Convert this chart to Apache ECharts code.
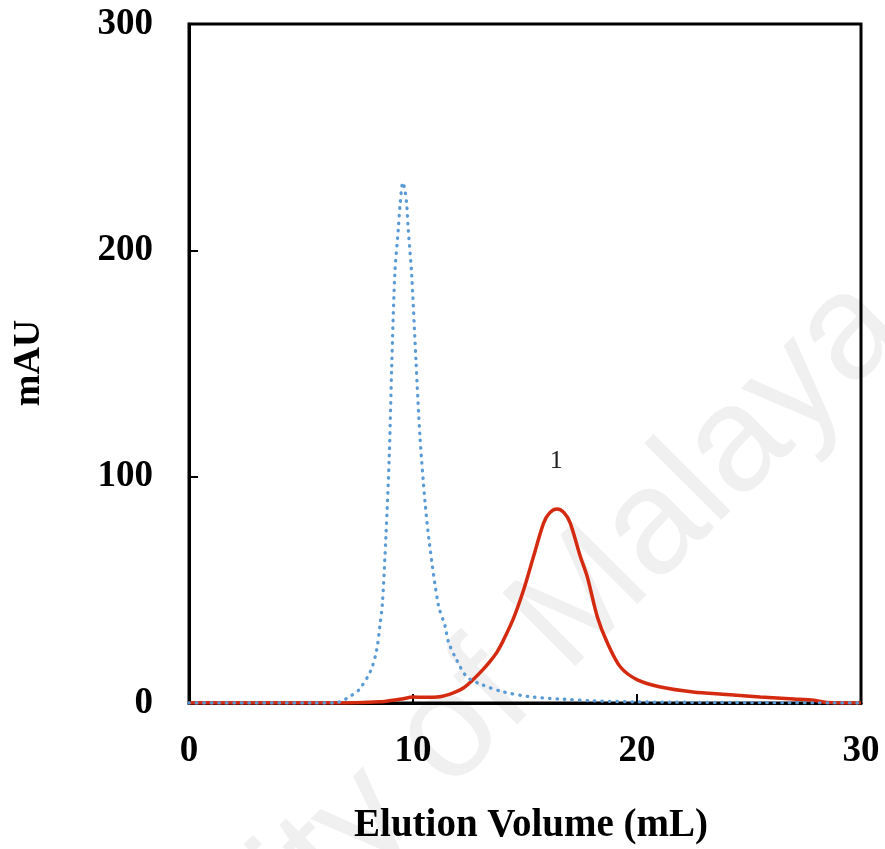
<!DOCTYPE html>
<html>
<head>
<meta charset="utf-8">
<script src="https://cdn.jsdelivr.net/npm/echarts@6/dist/echarts.min.js"></script>
<style>
html,body{margin:0;padding:0;background:#fff;}
#chart{width:885px;height:849px;}
</style>
</head>
<body>
<div id="chart"></div>
<script>
// Elution volume (mL) vs absorbance (mAU)
var redSeries = [
  [0,0],[7,0],[8.5,0.5],[9.5,1.8],[10,2.6],[10.5,2.5],[11.2,2.8],[11.8,4.5],[12.25,6.6],
  [12.7,10.5],[13.1,14.5],[13.45,18.5],[13.75,22.5],[14.0,27],[14.49,37.5],[14.94,50],
  [15.38,64.7],[15.83,79.5],[16.1,84],[16.43,85.7],[16.75,84],[17.02,79.5],[17.47,64.7],
  [17.78,55.8],[18.23,38],[18.68,26.5],[19.26,15.9],[20.02,10.2],[21.05,7.1],[22.5,4.9],
  [24,3.8],[25.5,2.7],[27,1.8],[27.9,1.2],[28.5,0.2],[29,0],[30,0]
];
var blueSeries = [
  [0,0],[6.5,0],[6.8,0.8],[7.2,3],[7.6,6],[8.1,14],[8.37,23],[8.52,34],[8.63,43.4],
  [8.79,73.6],[8.94,109],[9.05,148.8],[9.19,190],[9.34,209],[9.42,220],[9.55,230],
  [9.65,226],[9.72,220],[9.79,209],[9.94,189.5],[10.13,151.8],[10.31,117.8],[10.54,88.5],
  [10.73,70.8],[11.13,43.4],[11.43,34],[11.58,27],[11.95,19],[12.4,11.6],[13.1,8],
  [14.0,5],[15.2,2.8],[16.7,1.7],[18,1],[20,0.5],[25,0.2],[30,0]
];
var peakLabel = {text: '1', x: 16.4, y: 107};
var xTicks = [0, 10, 20, 30];
var yTicks = [0, 100, 200, 300];
var xTitle = 'Elution Volume (mL)';
var yTitle = 'mAU';
var watermark = 'University of Malaya';

var chart = echarts.init(document.getElementById('chart'), null, {renderer: 'canvas'});
var serif = '"Liberation Serif", "Times New Roman", serif';
chart.setOption({
  animation: false,
  backgroundColor: '#fff',
  graphic: [
    {type: 'text', z: -10, x: 402, y: 781, rotation: Math.PI / 4, silent: true,
      style: {text: watermark, fill: '#f0f0f0', font: '150px "Liberation Sans", Arial, sans-serif',
        textAlign: 'center', textVerticalAlign: 'middle'}},
    {type: 'text', x: 531, y: 826,
      style: {text: xTitle, fill: '#000', font: 'bold 39px ' + serif, textAlign: 'center', textVerticalAlign: 'middle'}},
    {type: 'text', x: 29, y: 363, rotation: Math.PI / 2,
      style: {text: yTitle, fill: '#000', font: 'bold 38px ' + serif, textAlign: 'center', textVerticalAlign: 'middle'}}
  ],
  grid: {left: 189, right: 24, top: 24, bottom: 146, show: true, borderColor: '#000', borderWidth: 3, backgroundColor: 'transparent'},
  xAxis: {
    type: 'value', min: xTicks[0], max: xTicks[xTicks.length - 1], interval: 10,
    axisLine: {show: true, lineStyle: {color: '#000', width: 3}},
    axisTick: {show: true, inside: true, length: 9, lineStyle: {color: '#000', width: 2}},
    splitLine: {show: false},
    axisLabel: {margin: 30, color: '#000', fontFamily: serif, fontWeight: 'bold', fontSize: 37}
  },
  yAxis: {
    type: 'value', min: yTicks[0], max: yTicks[yTicks.length - 1], interval: 100,
    axisLine: {show: true, lineStyle: {color: '#000', width: 3}},
    axisTick: {show: true, inside: true, length: 9, lineStyle: {color: '#000', width: 2}},
    splitLine: {show: false},
    axisLabel: {margin: 36, color: '#000', fontFamily: serif, fontWeight: 'bold', fontSize: 37}
  },
  series: [
    {type: 'line', data: redSeries, showSymbol: false, smooth: 0.3,
      lineStyle: {color: '#d42a10', width: 3.5}, z: 3,
      markPoint: {symbol: 'circle', symbolSize: 0, data: [{coord: [peakLabel.x, peakLabel.y], value: peakLabel.text}],
        label: {show: true, formatter: peakLabel.text, color: '#222', fontFamily: serif, fontSize: 26, position: 'inside'}}},
    {type: 'line', data: blueSeries, showSymbol: false, smooth: 0.3,
      lineStyle: {color: '#5b9bd5', width: 3.3, type: [0.5, 7], cap: 'round'}, z: 4}
  ]
});
</script>
</body>
</html>
